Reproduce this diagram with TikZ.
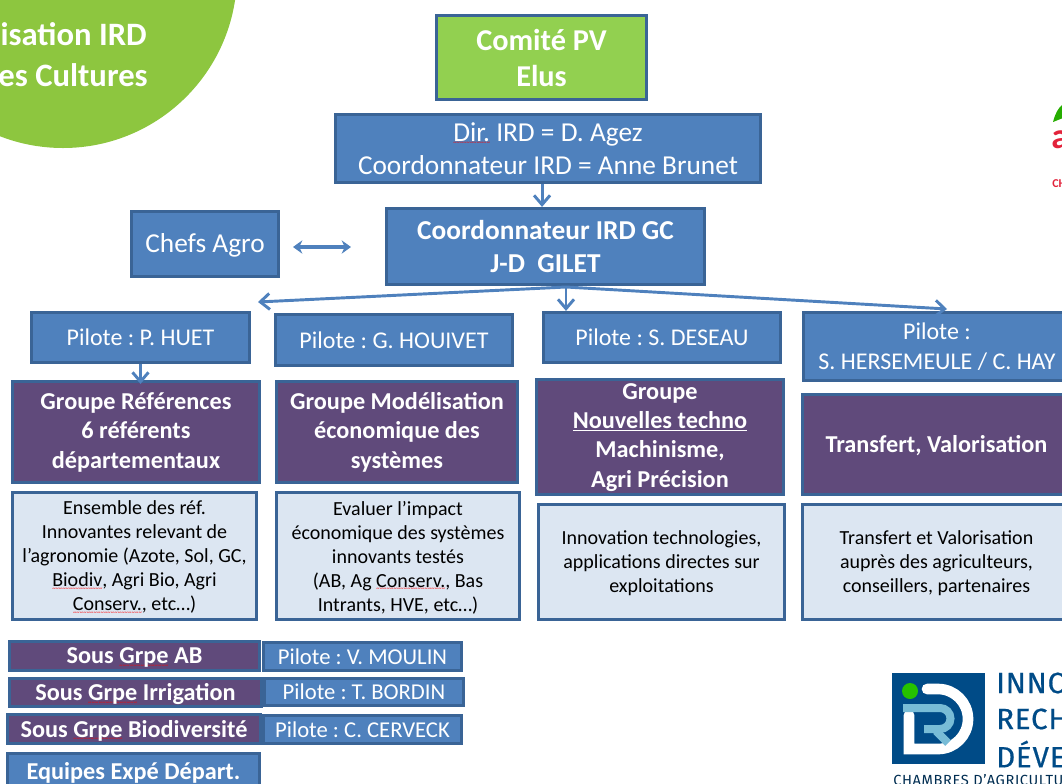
\documentclass[tikz,border=0pt]{standalone}
\usepackage{fontspec}
\setmainfont{Carlito}
\newfontfamily\logofont[FakeBold=0.6,LetterSpace=3]{Fira Sans}
\newfontfamily\logosmall[LetterSpace=4]{Fira Sans}
\usepackage{tikz}
\usetikzlibrary{arrows.meta}
\definecolor{blueFill}{HTML}{4F81BD}
\definecolor{blueEdge}{HTML}{3A6496}
\definecolor{purpleFill}{HTML}{604A7B}
\definecolor{paleFill}{HTML}{DCE6F2}
\definecolor{greenBox}{HTML}{92D050}
\definecolor{greenDisc}{HTML}{8DC63F}
\definecolor{logoBlue}{HTML}{004B87}
\definecolor{logoSky}{HTML}{78BCD6}
\definecolor{logoRed}{HTML}{E2233B}
\newcommand{\squig}[1]{\setbox0\hbox{#1}\leavevmode\rlap{\lower2.6pt\hbox to\wd0{\color{red}\fontsize{5}{5}\selectfont\mdseries\xleaders\hbox{\char"7E}\hfill}}\box0\relax}
\def\pxu{0.75pt}
\tikzset{
    sized/.style 2 args={minimum width=#1*\pxu, minimum height=#2*\pxu},
    box/.style={rectangle, draw=blueEdge, line width=2.4pt, inner sep=0pt, align=center, text=white},
    title/.style={inner sep=0pt, anchor=east, text=white, font=\fontsize{24.5}{25}\selectfont\bfseries},
    comite/.style={box, fill=greenBox, font=\fontsize{22.7}{27}\selectfont\bfseries},
    chef/.style={box, fill=blueFill, font=\fontsize{20.5}{24.8}\selectfont},
    coord/.style={box, fill=blueFill, font=\fontsize{20.5}{24.8}\selectfont\bfseries},
    pilote/.style={box, fill=blueFill, font=\fontsize{18}{23}\selectfont},
    groupe/.style={box, fill=purpleFill, text depth=2.5pt, font=\fontsize{18.2}{22}\selectfont\bfseries},
    detail/.style={box, fill=paleFill, text=black, text depth=-0.5pt, font=\fontsize{15}{18}\selectfont},
    sous/.style={box, fill=purpleFill, text depth=0.5pt, font=\fontsize{18.2}{19}\selectfont\bfseries},
    souspilote/.style={box, fill=blueFill, font=\fontsize{17}{19}\selectfont},
    link/.style={-{Straight Barb[length=7pt,width=12pt]}, draw=blueFill, line width=2.2pt},
    linkboth/.style={<->, >={Stealth[length=7pt,width=10pt]}, draw=blueFill, line width=2.4pt},
    logotext/.style={inner sep=0pt, text=logoBlue, anchor=west, font=\logofont\fontsize{22}{22}\selectfont},
}

\begin{document}
\frenchspacing
\begin{tikzpicture}[x=0.75pt,y=-0.75pt]
  \useasboundingbox (0,0) rectangle (1062,783);
  \clip (0,0) rectangle (1062,783);

% title disc
  \fill[greenDisc] (63,-26) circle[radius=174*\pxu];
  \node[title] (TitleA) at (147,34) {isation IRD};
  \node[title] (TitleB) at (148,75) {es Cultures};

% head of the chart
  \node[comite, sized={210}{84}] (Comite) at (541.5,57.5) {Comité PV\\Elus};
  \node[chef, sized={425}{68}]   (Dir)    at (548,148.5)  {\squig{Dir.} IRD = D. Agez\\Coordonnateur IRD = Anne Brunet};
  \node[coord, sized={318}{76}]  (Coord)  at (545.5,246.5) {Coordonnateur IRD GC\\J-D\ \ GILET};
  \node[chef, text depth=1pt, sized={147}{65}] (Chefs)  at (205,244) {Chefs Agro};

% pilotes
  \node[pilote, sized={218}{50}] (Huet)    at (140.5,337.5) {Pilote : P. HUET};
  \node[pilote, sized={237}{51}] (Houivet) at (394,340)     {Pilote : G. HOUIVET};
  \node[pilote, sized={237}{50}] (Deseau)  at (662,337.5)   {Pilote : S. DESEAU};
  \node[pilote, sized={267}{68}] (Herse)   at (937,346.5)   {Pilote :\\S. HERSEMEULE / C. HAY};

% groupes
  \node[groupe, sized={247}{101}] (GrpRef)  at (136,432)     {Groupe Références\\6 référents\\départementaux};
  \node[groupe, sized={241}{101}] (GrpModel) at (397,432)    {Groupe Modélisation\\économique des\\systèmes};
  \node[groupe, sized={247}{115}] (GrpTechno) at (660,437)   {Groupe\\\underline{Nouvelles techno}\\Machinisme,\\Agri Précision};
  \node[groupe, text depth=0.5pt, sized={268}{100}] (GrpTrans) at (936.5,444.5) {Transfert, Valorisation};

% descriptions
  \node[detail, sized={244}{127}] (DescRef)   at (134.5,556) {Ensemble des réf.\\Innovantes relevant de\\l’agronomie (Azote, Sol, GC,\\\squig{Biodiv}, Agri Bio, Agri\\\squig{Conserv.}, etc…)};
  \node[detail, sized={243}{127}] (DescModel) at (398,556)   {Evaluer l’impact\\économique des systèmes\\innovants testés\\(AB, Ag \squig{Conserv.}, Bas\\Intrants, HVE, etc…)};
  \node[detail, sized={246}{115}] (DescTechno) at (661.5,562) {Innovation technologies,\\applications directes sur\\exploitations};
  \node[detail, sized={268}{115}] (DescTrans) at (936.5,562) {Transfert et Valorisation\\auprès des agriculteurs,\\conseillers, partenaires};

% sous groupes
  \node[sous, sized={250}{29}] (SousAB)   at (134.5,656) {Sous \squig{Grpe} AB};
  \node[sous, sized={252}{28}] (SousIrr)  at (135.5,692.5) {Sous \squig{Grpe} Irrigation};
  \node[sous, sized={253}{29}] (SousBio)  at (134,729)   {Sous \squig{Grpe} Biodiversité};
  \node[souspilote, sized={198}{28}] (PilAB)  at (362.5,656.5) {Pilote : V. MOULIN};
  \node[souspilote, sized={199}{27}] (PilIrr) at (364,692)     {Pilote : T. BORDIN};
  \node[souspilote, sized={198}{28}] (PilBio) at (362.5,729.5) {Pilote : C. CERVECK};
  \node[sous, fill=blueFill, sized={252}{35}] (Equipes) at (133.5,771) {Equipes Expé Départ.};

% connectors
  \coordinate (fork) at (566,287);
  \coordinate (forkLeft) at (258,302);
  \coordinate (forkRight) at (947,309);
  \coordinate (chefsEnd) at (293,247);
  \coordinate (coordEnd) at (351,247);
  \draw[link] ([xshift=-2.6pt]Dir.south -| Coord.north) -- ([xshift=-2.6pt]Coord.north);
  \draw[linkboth] (chefsEnd) -- (coordEnd);
  \draw[link] (fork) -- (forkLeft);
  \draw[link] (fork) -- (fork |- Deseau.north);
  \draw[link] (fork) -- (forkRight);
  \draw[link] (Huet.south) -- ([yshift=-3pt]Huet.south |- GrpRef.north);

% logo IRD
  \fill[logoBlue] (892,673) rectangle (985,764);
  \fill[green!70!black!80!lime] (910,691) circle[radius=8*\pxu];
  \draw[white, line width=8pt, line cap=round] (927,689) -- (938,689) arc[start angle=90, end angle=-90, radius=30*\pxu] -- (909,749) -- (909,715);
  \draw[logoSky, line width=6pt] (903,708) -- (940,708) arc[start angle=90, end angle=-90, radius=10.5*\pxu] -- (924,729);
  \draw[logoSky, line width=6pt] (936,731) -- (948,743);
  \node[logotext] (LogoA) at (996,683) {INNO};
  \node[logotext] (LogoB) at (996,719) {RECH};
  \node[logotext] (LogoC) at (996,754) {DÉVE};
  \node[inner sep=0pt, anchor=west, text=logoBlue!60!black, font=\logosmall\fontsize{11}{11}\selectfont] (LogoD) at (893,780) {CHAMBRES D’AGRICULTU};

% logo corner right
  \fill[green!60!black!80!lime] (1053,122) .. controls (1055,114) and (1058,108) .. (1063,104) -- (1063,118) -- cycle;
  \node[inner sep=0pt, anchor=west, text=logoRed, font=\fontsize{27}{27}\selectfont\bfseries] (LogoE) at (1051,140) {a};
  \node[inner sep=0pt, anchor=west, text=logoRed, font=\fontsize{9}{9}\selectfont\bfseries] (LogoF) at (1052,184) {CH};
\end{tikzpicture}
\end{document}
